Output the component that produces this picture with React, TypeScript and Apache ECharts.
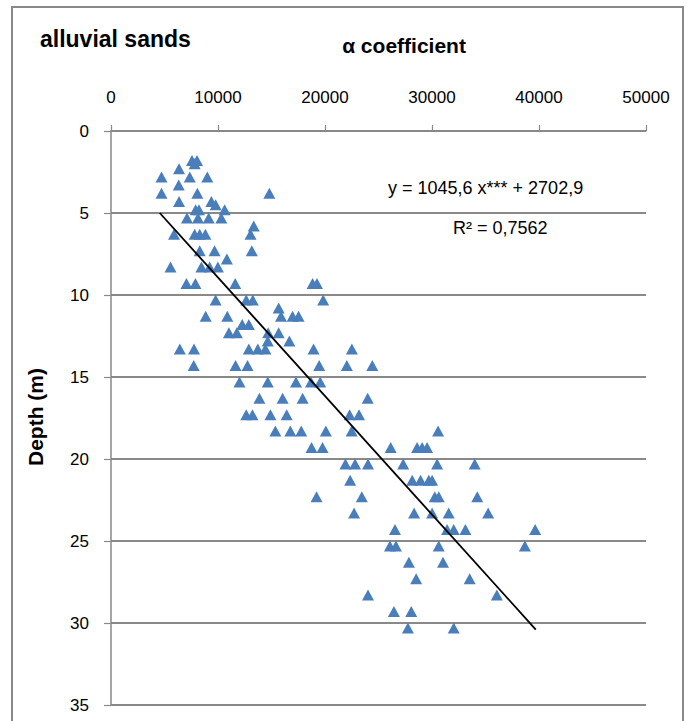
import React, { useEffect, useRef } from "react";
import * as echarts from "echarts";

// Depth (m) of each sample
const depthValues = [
  1.8, 1.8, 2.0, 2.3, 2.8, 2.8, 2.8, 3.3, 3.8, 3.8, 3.8, 4.3, 4.3, 4.5,
  4.8, 4.8, 4.8, 5.3, 5.3, 5.3, 5.3, 5.8, 6.3, 6.3, 6.3, 6.3, 6.3,
  7.3, 7.3, 7.3, 7.8, 8.3, 8.3, 8.3, 8.3,
  9.3, 9.3, 9.3, 9.3, 9.3, 10.3, 10.3, 10.3, 10.3, 10.8,
  11.3, 11.3, 11.3, 11.3, 11.3, 11.8, 11.8, 12.3, 12.3, 12.3, 12.3, 12.8, 12.8,
  13.3, 13.3, 13.3, 13.3, 13.3, 13.3, 13.3,
  14.3, 14.3, 14.3, 14.3, 14.3, 14.3,
  15.3, 15.3, 15.3, 15.3, 15.3,
  16.3, 16.3, 16.3, 16.3,
  17.3, 17.3, 17.3, 17.3, 17.3, 17.3,
  18.3, 18.3, 18.3, 18.3, 18.3, 18.3,
  19.3, 19.3, 19.3, 19.3, 19.3, 19.3,
  20.3, 20.3, 20.3, 20.3, 20.3, 20.3,
  21.3, 21.3, 21.3, 21.3, 21.3,
  22.3, 22.3, 22.3, 22.3, 22.3,
  23.3, 23.3, 23.3, 23.3, 23.3,
  24.3, 24.3, 24.3, 24.3, 24.3,
  25.3, 25.3, 25.3, 25.3,
  26.3, 26.3, 27.3, 27.3, 28.3, 28.3, 29.3, 29.3, 30.3, 30.3,
];

// α coefficient of each sample (same order as depthValues)
const alphaValues = [
  7570, 8040, 7820, 6360, 4720, 7360, 9000, 6330, 4720, 8070, 14800, 6360, 9380, 9780,
  7910, 8220, 10620, 7100, 8130, 9130, 10310, 13340, 5890, 7820, 8290, 8820, 13040,
  8290, 9680, 13160, 10830, 5560, 8450, 9220, 9990,
  7050, 7890, 11610, 18840, 19250, 9780, 12640, 13250, 19830, 15670,
  8850, 10870, 15890, 16970, 17530, 12260, 12880, 11020, 11760, 14690, 15670, 14650, 16670,
  6430, 7760, 12880, 13720, 14430, 18930, 22510,
  7730, 11640, 12760, 19460, 22040, 24420,
  12010, 14650, 17290, 18690, 19550,
  13870, 16040, 17910, 23990,
  12640, 13220, 14900, 16420, 22300, 23180,
  15360, 16760, 17780, 20080, 22490, 30570,
  18740, 19770, 26140, 28610, 29080, 29540,
  21910, 22810, 24020, 27310, 30480, 33990,
  22350, 28150, 28930, 29700, 30010,
  19210, 23440, 30260, 30630, 34230,
  22720, 28330, 30010, 31560, 35250,
  26540, 31410, 32030, 33120, 39640,
  26070, 26630, 30630, 38680,
  27840, 31030, 28520, 33520, 24020, 36060, 26440, 28060, 27750, 32030,
];

// Trend line end points [alpha, depth]
const trendStart = [4560, 5.0];
const trendEnd = [39700, 30.4];

const xTicks = [0, 10000, 20000, 30000, 40000, 50000];
const yTicks = [0, 5, 10, 15, 20, 25, 30, 35];

const chartTitle = "alluvial sands";
const xTitle = "α coefficient";
const yTitle = "Depth (m)";
const equationText = "y = 1045,6 x*** + 2702,9";
const r2Text = "R² = 0,7562";

const FONT = "'Liberation Sans', Arial, sans-serif";
const GRAY = "#898989";

export default function App() {
  const ref = useRef<HTMLDivElement>(null);

  useEffect(() => {
    if (!ref.current) return;
    const chart = echarts.init(ref.current, null, { renderer: "svg" });
    const points = alphaValues.map((a, i) => [a, depthValues[i]]);
    chart.setOption({
      animation: false,
      backgroundColor: "#ffffff",
      grid: { left: 111, top: 131, width: 535, height: 574 },
      xAxis: {
        type: "value",
        position: "top",
        min: xTicks[0],
        max: xTicks[xTicks.length - 1],
        interval: xTicks[1] - xTicks[0],
        axisLine: { show: true, lineStyle: { color: GRAY, width: 1.5 } },
        axisTick: { show: true, length: 6, lineStyle: { color: GRAY, width: 1.2 } },
        splitLine: { show: false },
        axisLabel: {
          margin: 25,
          fontSize: 17,
          color: "#000",
          fontFamily: FONT,
          formatter: (v: number) => String(v),
        },
      },
      yAxis: {
        type: "value",
        inverse: true,
        min: yTicks[0],
        max: yTicks[yTicks.length - 1],
        interval: yTicks[1] - yTicks[0],
        axisLine: { show: true, lineStyle: { color: GRAY, width: 1.5 } },
        axisTick: { show: true, length: 7, lineStyle: { color: GRAY, width: 1.2 } },
        splitLine: { show: true, lineStyle: { color: GRAY, width: 1.8 } },
        axisLabel: {
          margin: 22,
          fontSize: 17,
          color: "#000",
          fontFamily: FONT,
          formatter: (v: number) => String(v),
        },
      },
      series: [
        {
          type: "scatter",
          data: points,
          symbol: "triangle",
          symbolSize: [12, 11],
          itemStyle: { color: "#4a7ebb", opacity: 1 },
          z: 3,
        },
        {
          type: "line",
          data: [trendStart, trendEnd],
          symbol: "none",
          lineStyle: { color: "#000", width: 1.8 },
          z: 4,
        },
      ],
      graphic: [
        {
          type: "rect",
          shape: { x: 12, y: 7, width: 671, height: 730 },
          style: { fill: "none", stroke: GRAY, lineWidth: 2 },
          silent: true,
        },
        {
          type: "text",
          x: 40,
          y: 39,
          style: {
            text: chartTitle,
            font: `bold 23px ${FONT}`,
            fill: "#000",
            verticalAlign: "middle",
          },
        },
        {
          type: "text",
          x: 404,
          y: 45,
          style: {
            text: xTitle,
            font: `bold 21px ${FONT}`,
            fill: "#000",
            align: "center",
            verticalAlign: "middle",
          },
        },
        {
          type: "text",
          x: 35,
          y: 417,
          rotation: Math.PI / 2,
          style: {
            text: yTitle,
            font: `bold 21px ${FONT}`,
            fill: "#000",
            align: "center",
            verticalAlign: "middle",
          },
        },
        {
          type: "text",
          x: 388,
          y: 188,
          style: {
            text: equationText,
            font: `18px ${FONT}`,
            fill: "#000",
            verticalAlign: "middle",
          },
        },
        {
          type: "text",
          x: 453,
          y: 228,
          style: {
            text: r2Text,
            font: `18px ${FONT}`,
            fill: "#000",
            verticalAlign: "middle",
          },
        },
      ],
    });
    return () => chart.dispose();
  }, []);

  return (
    <div
      ref={ref}
      style={{ position: "absolute", left: 0, top: 0, width: 692, height: 721 }}
    />
  );
}
